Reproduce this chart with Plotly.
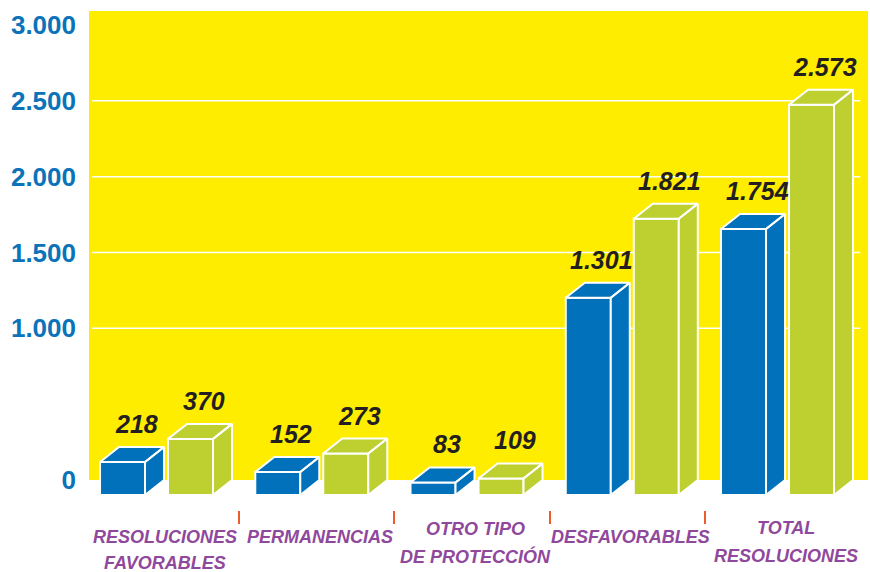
import plotly.graph_objects as go

# ---- data -------------------------------------------------------------
CATEGORIES = [
    "RESOLUCIONES\nFAVORABLES",
    "PERMANENCIAS",
    "OTRO TIPO\nDE PROTECCIÓN",
    "DESFAVORABLES",
    "TOTAL\nRESOLUCIONES",
]
SERIES_BLUE = [218, 152, 83, 1301, 1754]
SERIES_GREEN = [370, 273, 109, 1821, 2573]
Y_TICKS = [0, 1000, 1500, 2000, 2500, 3000]
Y_TICK_TEXT = ["0", "1.000", "1.500", "2.000", "2.500", "3.000"]

# ---- styling / geometry ---------------------------------------------------
W, H = 870, 572
ML, MR, MT, MB = 89, 2, 11, 62
PLOT_W = W - ML - MR
PLOT_H = H - MT - MB

PX_PER_X = 155.25                # pixels per category
X_MIN = -0.435
X_MAX = X_MIN + PLOT_W / PX_PER_X

PX_PER_Y = 455 / 3000            # pixels per unit of value
ZERO_PX_ABOVE_BOTTOM = 30        # value 0 sits this far above the plot bottom
Y_MIN = -ZERO_PX_ABOVE_BOTTOM / PX_PER_Y
Y_MAX = Y_MIN + PLOT_H / PX_PER_Y

BAR_W = 45 / PX_PER_X            # width of the front face
BAR_OFF = 34 / PX_PER_X          # distance of each front face from the category centre
DEPTH_X = 19 / PX_PER_X          # 3D depth, horizontal
DEPTH_Y = 15 / PX_PER_Y          # 3D depth, vertical

# pixel rows (from the top of the page) of the category label lines
LABEL_ROWS = [(537, 563), (537,), (529, 556), (537,), (528, 556)]

BLUE = "#0071BA"
GREEN = "#BDD02F"
YELLOW = "#FFED00"
TICK_BLUE = "#0A73B9"
PURPLE = "#8F489C"
ORANGE = "#EE5B2E"
DARK = "#231F20"
FONT = "Liberation Sans, Arial, sans-serif"


def fmt(v):
    return f"{v:,}".replace(",", ".")


def faces(xs, values):
    """Top and side faces of the 3D prisms as closed polygons (None-separated)."""
    px, py = [], []
    for xc, v in zip(xs, values):
        x0, x1 = xc - BAR_W / 2, xc + BAR_W / 2
        top = v - DEPTH_Y
        # top face
        px += [x0, x1, x1 + DEPTH_X, x0 + DEPTH_X, x0, None]
        py += [top, top, v, v, top, None]
        # side face
        px += [x1, x1 + DEPTH_X, x1 + DEPTH_X, x1, x1, None]
        py += [-DEPTH_Y, 0, v, top, -DEPTH_Y, None]
    return px, py


idx = list(range(len(CATEGORIES)))
x_blue = [i - BAR_OFF for i in idx]
x_green = [i + BAR_OFF for i in idx]

fig = go.Figure()

for xs, vals, color in ((x_blue, SERIES_BLUE, BLUE), (x_green, SERIES_GREEN, GREEN)):
    # front faces
    fig.add_trace(go.Bar(
        x=xs, y=vals, base=[-DEPTH_Y] * len(vals), width=BAR_W,
        marker=dict(color=color, line=dict(color="white", width=2)),
        hoverinfo="skip", showlegend=False,
    ))
    # top + side faces
    fx, fy = faces(xs, vals)
    fig.add_trace(go.Scatter(
        x=fx, y=fy, mode="lines", fill="toself", fillcolor=color,
        line=dict(color="white", width=2), hoverinfo="skip", showlegend=False,
    ))

annotations = []
# value labels above each prism
for xs, vals in ((x_blue, SERIES_BLUE), (x_green, SERIES_GREEN)):
    for xc, v in zip(xs, vals):
        annotations.append(dict(
            x=xc - BAR_W / 2 + (BAR_W + DEPTH_X) / 2, y=v, xref="x", yref="y",
            text=f"<b><i>{fmt(v)}</i></b>", showarrow=False,
            xanchor="center", yanchor="bottom", xshift=4, yshift=7,
            font=dict(family=FONT, size=25, color=DARK),
        ))

# category labels, one annotation per line
LABEL_X_SHIFT = 0.056
for i, cat in enumerate(CATEGORIES):
    for line, ypix in zip(cat.split("\n"), LABEL_ROWS[i]):
        annotations.append(dict(
            x=i + LABEL_X_SHIFT, y=(H - MB - ypix) / PLOT_H, xref="x", yref="paper",
            text=f"<b><i>{line}</i></b>", showarrow=False,
            xanchor="center", yanchor="middle",
            font=dict(family=FONT, size=18, color=PURPLE),
        ))

shapes = [
    # yellow back wall, from the zero level upwards
    dict(type="rect", xref="paper", yref="y", x0=0, x1=1, y0=0, y1=Y_MAX,
         fillcolor=YELLOW, line=dict(width=0), layer="below"),
]
for t in Y_TICKS:
    if 0 < t < max(Y_TICKS):
        shapes.append(dict(type="line", xref="paper", yref="y", x0=0.004, x1=0.99,
                           y0=t, y1=t, line=dict(color="white", width=1.5),
                           layer="below"))

TICK_SHIFT = 0.032
fig.update_layout(
    width=W, height=H,
    margin=dict(l=ML, r=MR, t=MT, b=MB, pad=0),
    paper_bgcolor="white", plot_bgcolor="white",
    barmode="overlay",
    showlegend=False,
    shapes=shapes,
    annotations=annotations,
    xaxis=dict(
        range=[X_MIN, X_MAX], showgrid=False, zeroline=False, showline=False,
        tickmode="array", tickvals=[i + 0.5 + TICK_SHIFT for i in idx[:-1]],
        ticks="outside", ticklen=13, tickwidth=2, tickcolor=ORANGE,
        showticklabels=False, fixedrange=True,
    ),
    yaxis=dict(
        range=[Y_MIN, Y_MAX], showgrid=False, zeroline=False, showline=False,
        tickmode="array", tickvals=Y_TICKS, ticktext=Y_TICK_TEXT,
        ticks="", ticklabelstandoff=12,
        tickfont=dict(family=FONT, size=26, color=TICK_BLUE, weight="bold"),
        fixedrange=True,
    ),
)

fig.write_html("out.html")
